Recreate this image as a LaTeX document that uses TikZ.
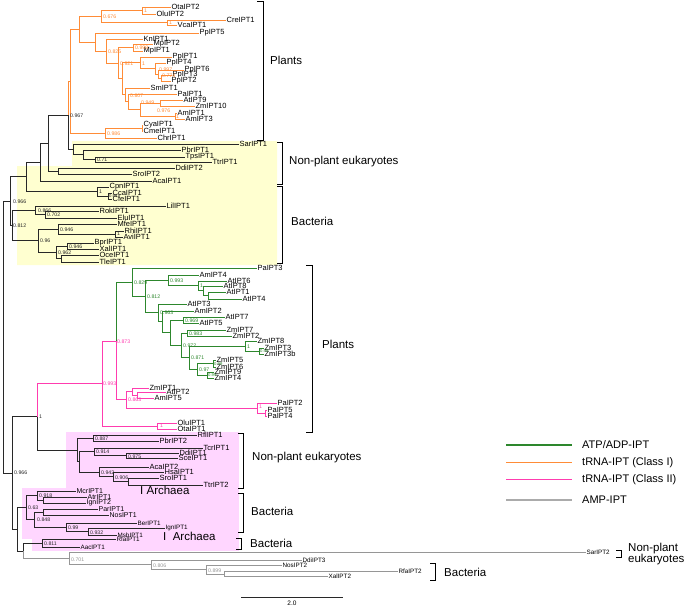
\documentclass[tikz,border=0pt]{standalone}
\usepackage{fontspec}
\setmainfont{Liberation Sans}
\definecolor{orcol}{RGB}{255,140,55}
\definecolor{grcol}{RGB}{45,135,45}
\definecolor{pkcol}{RGB}{255,60,175}
\definecolor{gycol}{RGB}{150,150,150}
\definecolor{bkcol}{RGB}{40,40,40}
\definecolor{yelbox}{RGB}{255,255,208}
\definecolor{pinkbox}{RGB}{255,214,255}
\begin{document}
\begin{tikzpicture}[x=1pt,y=-1pt,
  lf/.style={anchor=west,inner sep=0pt,outer sep=0.6pt,font=\fontsize{7.5}{8}\selectfont},
  lfb/.style={lf,font=\fontsize{7}{7.5}\selectfont},
  lfs/.style={lf,font=\fontsize{6.3}{7}\selectfont},
  bs/.style={anchor=west,inner sep=0pt,font=\fontsize{5.2}{5.5}\selectfont},
  bst/.style={bs,font=\fontsize{4.2}{4.5}\selectfont},
  grp/.style={anchor=west,inner sep=0pt,font=\fontsize{11.5}{12}\selectfont},
  leg/.style={anchor=west,inner sep=0pt,font=\fontsize{11}{12}\selectfont},
  tbk/.style={line width=0.8pt,bkcol},
  tor/.style={line width=0.9pt,orcol},
  tgr/.style={line width=0.9pt,grcol},
  tpk/.style={line width=0.9pt,pkcol},
  tgy/.style={line width=0.8pt,gycol},
  brk/.style={line width=1pt,black}]
\path[use as bounding box] (0,0) rectangle (685,608);
% background boxes
\fill[yelbox] (72,141) -- (277,141) -- (277,265) -- (17,265) -- (17,166) -- (72,166) -- cycle;
\fill[pinkbox] (66,432) rectangle (239,488);
\fill[pinkbox] (22,488) rectangle (239,539);
\fill[pinkbox] (32,539) rectangle (239,551);
% ---------- leaves ----------
\foreach \n/\x/\y/\t in {ota2/171/7/OtaIPT2, olu2/156/14/OluIPT2, cre1/226/20/CreIPT1, vca1/177/25/VcaIPT1, pp5/199/33/PpIPT5, kn1/143/39/KnIPT1, mp2/153/44/MpIPT2, mp1/143/51/MpIPT1, pp1/172/57/PpIPT1, pp4/166/63/PpIPT4, pp6/184/70/PpIPT6, pp3/172/75/PpIPT3, pp2/171/81/PpIPT2, sm1/150/88/SmIPT1, pa1/177/94/PaIPT1, at9/183/100/AtIPT9, zm10/195/106/ZmIPT10, am1/177/113/AmIPT1, am3/185/119/AmIPT3, cya1/143/125/CyaIPT1, cme1/143/131/CmeIPT1, chr1/157/138/ChrIPT1,
 sar1/239/144/SarIPT1, pbr1/181/150/PbrIPT1, tps1/185/157/TpsIPT1, ttr1/212/162/TtrIPT1, ddi2/175/168/DdiIPT2, sro2/132/174/SroIPT2, aca1/152/181/AcaIPT1, cpn1/109/187/CpnIPT1, cca1/112/193/CcaIPT1, cfe1/112/199/CfeIPT1, lil1/166/206/LilIPT1, rok1/99/211/RokIPT1, elu1/117/218/EluIPT1, mfe1/117/224/MfeIPT1, rhi1/124/231/RhiIPT1, avi1/123/237/AviIPT1, bpr1/94/243/BprIPT1, xal1/99/249/XalIPT1, oce1/99/255/OceIPT1, tle1/99/262/TleIPT1,
 pa3/257/268/PaIPT3, am4/199/275/AmIPT4, at6/227/281/AtIPT6, at8/223/286/AtIPT8, at1/226/292/AtIPT1, at4/242/299/AtIPT4, at3/187/304/AtIPT3, am2/194/311/AmIPT2, at7/225/317/AtIPT7, at5/199/323/AtIPT5, zm7/226/330/ZmIPT7, zm2/232/336/ZmIPT2, zm8/257/341/ZmIPT8, zm3/264/348/ZmIPT3, zm3b/264/354/ZmIPT3b, zm5/216/360/ZmIPT5, zm6/216/367/ZmIPT6, zm9/214/372/ZmIPT9, zm4/214/378/ZmIPT4,
 zm1/149/388/ZmIPT1, at2/166/392/AtIPT2, am5/154/398/AmIPT5, pa2/277/403/PaIPT2, pa5/267/410/PaIPT5, pa4/267/416/PaIPT4, olu1/177/423/OluIPT1, ota1/177/429/OtaIPT1,
 rfl1/197/435/RflIPT1, pbr2/159/441/PbrIPT2, tcr1/203/448/TcrIPT1, ddi1/179/453/DdiIPT1, sce1/178/458/SceIPT1, aca2/149/467/AcaIPT2, hsa1/164/472/HsaIPT1, sro1/159/478/SroIPT1, ttr2/203/485/TtrIPT2}
  \node[lf] (\n) at (\x,\y) {\t};
\foreach \n/\x/\y/\t in {mcr1/76/491/McrIPT1, atr1/87/497/AtrIPT1, ign2/86/503/IgnIPT2, par1/98/509/ParIPT1, nos1/109/515/NosIPT1}
  \node[lfb] (\n) at (\x,\y) {\t};
\foreach \n/\x/\y/\t in {ber1/137/523/BerIPT1, ign1/165/528/IgnIPT1, msb1/117/535/MsbIPT1, rfa1/116/539/RfaIPT1, aac1/80/547/AacIPT1, sar2/586/552.7/SarIPT2, ddi3/302/560/DdiIPT3, nos2/282/565/NosIPT2, rfa2/398/571.7/RfaIPT2, xal2/328/576.7/XalIPT2}
  \node[lfs] (\n) at (\x,\y) {\t};
% ---------- internal nodes ----------
\foreach \n/\x/\y in {o1/142/10.5, o2/167/22.5, o3/101/16.5, pA/161/78, pB/158/74, pC/155/68.5, pD/140/62.75, o5/133/47.5, a1/160/103, am/175/116, n949/140/109.5, n807/128/101.75, s1/125/94.9, nX/122/78.8, n921/118/63.2, n825/106/51.1, n95/95/42, n79/79/29.25, cy1/142/128, cy2/105/133, O/70/81.1,
 n071/95/159.5, nPbr/83/154.75, nSar/73/149.4, X/68/115.25, nDS/58/171, W/48/143, V/40/162, nCC/108/196, nCp/97/191.5, U/26/176.75, n702/45/214.5, n866/35/210.25, nRA/115/234, n946/58/229, n946b/67/246, nOT/61/258.5, n962/56/252.25, n96/38/240.6, n812b/12/225.4, n966t/10/201, root/3/337,
 n1a/208/295.5, n1b/203/290.75, n1c/198/285.9, n993g/168/280.4, n969/183/320, nZ72/187/333, nZ33/259/351, nZ1/245/346, nZ56/213/363.5, nZ94/207/375, n97/197/369.25, n871/189/357.6, n972/181/345.3, n170/170/332.65, nA/162/321.8, nB/158/312.9, n812/145/296.6, n829/132/282.3,
 nZA/137/395, n863/132/391.5, nPa54/265/413, nPa/257/408, nP2/126/399.75, n873/116/341, nOO/157/426, n993/102/383.5,
 n887/93/438, n975/126/455.5, n914/94/451.75, nST/128/481.5, n906/113/476.75, n942/99/471.9, nNPb/79/461.8, nNPa/77/449.9, n1/37/416.7,
 nAI/43/500, n918/37/495.5, nPN/43/512, n932/88/531.5, n99/66/527.25, n848/34/519.6, n63/26/507.6, n811/42/543, nb2/23/550.9, nb1/17/529.2, n966b/12/473,
 nXR/224/574.2, n899/206/569.6, n806/151/564.8, n701/69/558.75}
  \coordinate (\n) at (\x,\y);
% ---------- branches ----------
\foreach \p/\c in {o1/ota2, o1/olu2, o2/cre1, o2/vca1, o3/o1, o3/o2, n79/o3, n79/n95, n95/pp5, n95/n825, n825/kn1, n825/n921, n921/o5, n921/nX, o5/mp2, o5/mp1, nX/pD, nX/s1, pD/pp1, pD/pC, pC/pp4, pC/pB, pB/pp6, pB/pA, pA/pp3, pA/pp2, s1/sm1, s1/n807, n807/pa1, n807/n949, n949/a1, n949/am, a1/at9, a1/zm10, am/am1, am/am3, O/n79, O/cy2, cy2/cy1, cy2/chr1, cy1/cya1, cy1/cme1, X/O}
  \draw[tor] (\p) |- (\c);
\foreach \p/\c in {n071/tps1, n071/ttr1, nPbr/pbr1, nPbr/n071, nSar/sar1, nSar/nPbr, X/nSar, nDS/ddi2, nDS/sro2, W/X, W/nDS, V/W, V/aca1, nCC/cca1, nCC/cfe1, nCp/cpn1, nCp/nCC, U/V, U/nCp, n702/rok1, n702/elu1, n866/lil1, n866/n702, nRA/rhi1, nRA/avi1, n946/mfe1, n946/nRA, n946b/bpr1, n946b/xal1, nOT/oce1, nOT/tle1, n962/n946b, n962/nOT, n96/n946, n96/n962, n812b/n866, n812b/n96, n966t/U, n966t/n812b, root/n966t, root/n966b,
 n887/rfl1, n887/pbr2, n975/ddi1, n975/sce1, n914/tcr1, n914/n975, nST/sro1, nST/ttr2, n906/hsa1, n906/nST, n942/aca2, n942/n906, nNPb/n914, nNPb/n942, nNPa/n887, nNPa/nNPb, n1/nNPa, n966b/n1,
 nAI/atr1, nAI/ign2, n918/mcr1, n918/nAI, nPN/par1, nPN/nos1, n932/ign1, n932/msb1, n99/ber1, n99/n932, n848/nPN, n848/n99, n63/n918, n63/n848, n811/rfa1, n811/aac1, nb2/n811, nb1/n63, nb1/nb2, n966b/nb1}
  \draw[tbk] (\p) |- (\c);
\foreach \p/\c in {n1a/at1, n1a/at4, n1b/at8, n1b/n1a, n1c/at6, n1c/n1b, n993g/am4, n993g/n1c, n969/at7, n969/at5, nZ72/zm7, nZ72/zm2, nZ33/zm3, nZ33/zm3b, nZ1/zm8, nZ1/nZ33, nZ56/zm5, nZ56/zm6, nZ94/zm9, nZ94/zm4, n97/nZ56, n97/nZ94, n871/nZ1, n871/n97, n972/nZ72, n972/n871, n170/n969, n170/n972, nA/am2, nA/n170, nB/at3, nB/nA, n812/n993g, n812/nB, n829/pa3, n829/n812, n873/n829}
  \draw[tgr] (\p) |- (\c);
\foreach \p/\c in {nZA/at2, nZA/am5, n863/zm1, n863/nZA, nPa54/pa5, nPa54/pa4, nPa/pa2, nPa/nPa54, nP2/n863, nP2/nPa, n873/nP2, nOO/olu1, nOO/ota1, n993/n873, n993/nOO, n1/n993}
  \draw[tpk] (\p) |- (\c);
\foreach \p/\c in {nXR/rfa2, nXR/xal2, n899/nos2, n899/nXR, n806/ddi3, n806/n899, n701/sar2, n701/n806, nb2/n701}
  \draw[tgy] (\p) |- (\c);
% ---------- support values ----------
\foreach \x/\y/\t [count=\i] in {144/10.5/1, 169/22.5/1, 103/17/0.676, 108/52/0.825, 135/47.5/0.999, 120/64/0.921, 142/64/1, 159/70/0.997, 162/76/0.774, 130/96/0.807, 141/103/0.949, 157/111/0.976, 176/116.5/1, 107/134/0.986}
  \node[bs,text=orcol] (bo\i) at (\x,\y) {\t};
\foreach \x/\y/\t [count=\i] in {70/115.5/0.967, 97/160/0.71, 99/191.5/1, 13/202/0.966, 38/210.5/0.866, 47/215/0.702, 13/226/0.812, 117/234/1, 60/229.5/0.946, 69/246.5/0.946, 58/253/0.962, 40/241/0.96,
 39/417/1, 95/438.5/0.887, 96/452/0.914, 128/456.5/0.975, 101/472.5/0.942, 115/477.5/0.906, 14/473/0.966, 39/496/0.918, 28/507.5/0.63, 37/520/0.848, 68/527.5/0.99, 90/532.5/0.932, 44/543.5/0.811}
  \node[bs,text=bkcol] (bk\i) at (\x,\y) {\t};
\node[bst,text=bkcol] (bkx) at (109,196.5) {0.987};
\foreach \x/\y/\t [count=\i] in {134/283/0.829, 147/297/0.812, 170/280.5/0.993, 200/286/1, 160/313/0.963, 185/320.5/0.969, 189/333.5/0.983, 183/346/0.972, 247/347/1, 191/358/0.871, 199/370/0.97}
  \node[bs,text=grcol] (bg\i) at (\x,\y) {\t};
\foreach \x/\y/\t [count=\i] in {260/351/0.99, 214/364/0.99, 208/375.5/0.99}
  \node[bst,text=grcol] (bgs\i) at (\x,\y) {\t};
\foreach \x/\y/\t [count=\i] in {117/342/0.873, 103/383.5/0.993, 128/400/0.863, 259/407/1, 160/426/1}
  \node[bs,text=pkcol] (bp\i) at (\x,\y) {\t};
\foreach \x/\y/\t [count=\i] in {71/559.5/0.701, 153/565.5/0.806, 208/570.5/0.899}
  \node[bs,text=gycol] (by\i) at (\x,\y) {\t};
% ---------- brackets and group labels ----------
\draw[brk] (257,1) -| (263,140) -- (257,140);
\draw[brk] (277,142) -| (282,184) -- (277,184);
\draw[brk] (277,186) -| (282,263) -- (277,263);
\draw[brk] (306,265) -| (312,432) -- (306,432);
\draw[brk] (238,433) -| (243,488) -- (238,488);
\draw[brk] (238,493) -| (243,532) -- (238,532);
\draw[brk] (236,538) -| (241,549) -- (236,549);
\draw[brk] (616,550) -| (621,557) -- (616,557);
\draw[brk] (430,563) -| (435,580) -- (430,580);
\node[grp] (gpl1) at (270,60) {Plants};
\node[grp] (gnp1) at (289,162) {Non-plant eukaryotes};
\node[grp] (gba1) at (291,221) {Bacteria};
\node[grp] (gpl2) at (322,344) {Plants};
\node[grp] (gnp2) at (252,458) {Non-plant eukaryotes};
\node[grp] (gba2) at (251,511) {Bacteria};
\node[grp] (gba3) at (250,543) {Bacteria};
\node[grp,align=left,font=\fontsize{11.5}{10.5}\selectfont] (gnp3) at (628,554) {Non-plant\\eukaryotes};
\node[grp] (gba4) at (444,572) {Bacteria};
\node[grp] (arc1) at (140,490) {I Archaea};
\node[grp] (arc2) at (163,536) {I\ \ Archaea};
% ---------- legend ----------
\draw[line width=1.3pt,grcol] (506,445) -- (572,445);
\draw[line width=1.3pt,orcol] (506,462.7) -- (572,462.7);
\draw[line width=1.3pt,pkcol] (506,479.3) -- (572,479.3);
\draw[line width=1.3pt,gycol!80] (506,500) -- (572,500);
\node[leg] (lg1) at (582,445) {ATP/ADP-IPT};
\node[leg] (lg2) at (582,462.7) {tRNA-IPT (Class I)};
\node[leg] (lg3) at (582,479.3) {tRNA-IPT (Class II)};
\node[leg] (lg4) at (582,500) {AMP-IPT};
% ---------- scale bar ----------
\draw[line width=0.8pt,bkcol] (241,597) -- (343,597);
\node[inner sep=0pt,font=\fontsize{6.5}{7}\selectfont] (sc) at (292,603.5) {2.0};
\end{tikzpicture}
\end{document}
